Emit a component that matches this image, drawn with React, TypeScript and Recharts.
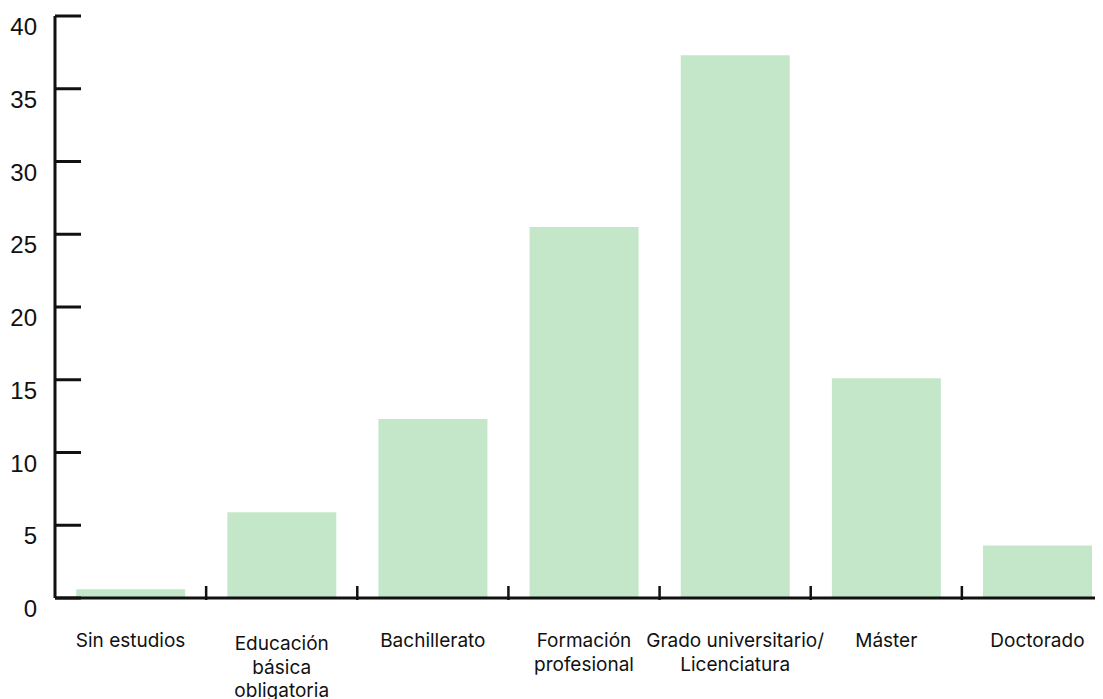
import * as React from "react";
import { BarChart, Bar, XAxis, YAxis } from "recharts";

// Share of respondents by highest level of education (%)
const categories = [
  "Sin estudios",
  "Educación\nbásica\nobligatoria",
  "Bachillerato",
  "Formación\nprofesional",
  "Grado universitario/\nLicenciatura",
  "Máster",
  "Doctorado",
];
const values = [0.6, 5.9, 12.3, 25.5, 37.3, 15.1, 3.6];
const yTicks = [0, 5, 10, 15, 20, 25, 30, 35, 40];

const data = categories.map((name, i) => ({ name, value: values[i] }));

// the plot runs a little past the right edge of the frame, so the
// chart is wider than the clipping box around it
const FRAME_W = 1103;
const WIDTH = 1120;
const HEIGHT = 699;
const Y_TICK_MARGIN = 18;
const BAR_COLOR = "#c4e7ca";
const INK = "#111";

function YTick(props: any) {
  const { x, y, payload } = props;
  const axisX = x + Y_TICK_MARGIN;
  return (
    <g>
      <line x1={axisX} x2={axisX + 26} y1={y} y2={y} stroke={INK} strokeWidth={3} />
      <text
        x={x}
        y={y}
        dy={19}
        textAnchor="end"
        fill={INK}
        fontSize={24}
        fontFamily="'Liberation Sans', Arial, sans-serif"
      >
        {payload.value}
      </text>
    </g>
  );
}

function XTick(props: any) {
  const { x, y, payload, width } = props;
  const band = width / categories.length;
  const lines = String(payload.value).split("\n");
  // three-line labels sit a little lower and tighter
  const top = lines.length > 2 ? 50 : 47;
  const step = lines.length > 2 ? 23.5 : 24;
  return (
    <g>
      {/* tick marks sit on the category boundaries, pointing up */}
      <line x1={x + band / 2} x2={x + band / 2} y1={y} y2={y - 14} stroke={INK} strokeWidth={2.5} />
      <text
        x={x}
        y={y}
        textAnchor="middle"
        fill={INK}
        fontSize={19}
        fontFamily="Inter, 'Noto Sans', sans-serif"
      >
        {lines.map((l, i) => (
          <tspan key={i} x={x} dy={i === 0 ? top : step}>
            {l}
          </tspan>
        ))}
      </text>
    </g>
  );
}

export default function App() {
  return (
    <div
      style={{
        margin: "-8px 0 0 -8px",
        width: FRAME_W,
        height: HEIGHT,
        background: "#fff",
        overflow: "hidden",
      }}
    >
      <BarChart
        width={WIDTH}
        height={HEIGHT}
        data={data}
        margin={{ top: 16, right: 7, bottom: 0, left: 0 }}
        barCategoryGap="14%"
      >
        <XAxis
          dataKey="name"
          height={101}
          interval={0}
          tickLine={false}
          tickSize={0}
          tick={<XTick />}
          axisLine={{ stroke: INK, strokeWidth: 3 }}
        />
        <YAxis
          domain={[0, 40]}
          ticks={yTicks}
          width={55}
          tickLine={false}
          tickSize={0}
          tickMargin={Y_TICK_MARGIN}
          tick={<YTick />}
          axisLine={{ stroke: INK, strokeWidth: 3 }}
        />
        <Bar dataKey="value" fill={BAR_COLOR} isAnimationActive={false} />
      </BarChart>
    </div>
  );
}
